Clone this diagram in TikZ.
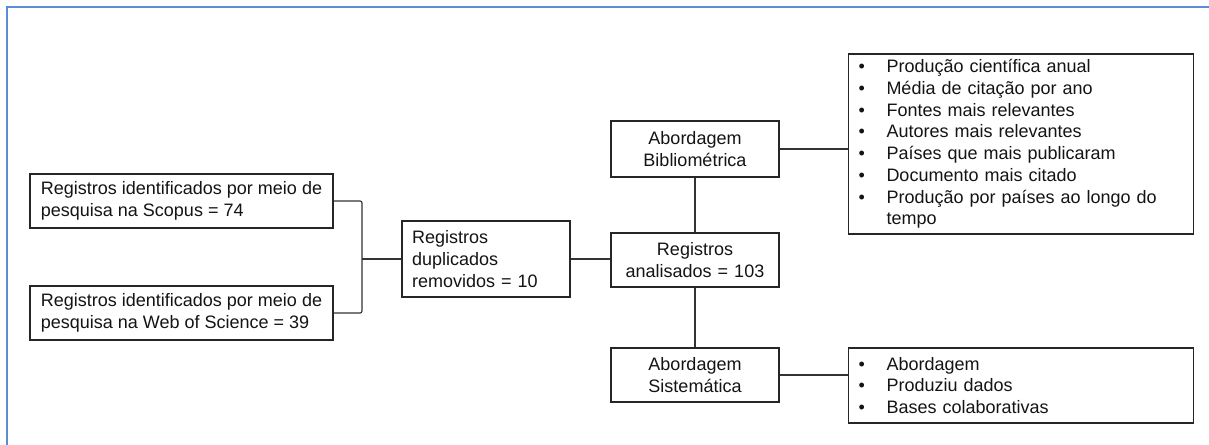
\documentclass[tikz,border=0pt]{standalone}
\usepackage{fontspec}
\setmainfont{Liberation Sans}
\usepackage{xcolor}
\usetikzlibrary{positioning,calc}
\definecolor{framecol}{RGB}{91,141,211}
\definecolor{inkcol}{RGB}{20,20,20}
\newcommand{\itm}[1]{\makebox[21pt][l]{\textbullet}#1}
\newcommand{\cont}[1]{\hspace*{21pt}#1}
\begin{document}
\begin{tikzpicture}[x=0.75pt, y=-0.75pt,
  font=\fontsize{13.5pt}{16.3pt}\selectfont, text=inkcol,
  box/.style={draw=black!85, line width=0.9pt, fill=white, inner xsep=7.5pt, inner ysep=2pt, minimum height=40.5pt},
  srcbox/.style={box, align=left, minimum width=227.25pt},
  stepbox/.style={box, text width=111pt, align=center},
  listbox/.style={box, text width=243.75pt, align=left},
  link/.style={draw=black!80, line width=0.9pt},
  frame/.style={draw=framecol, line width=1.5pt}]
\clip (0,0) rectangle (1209,445);
\draw[frame] (7,7) rectangle (1260,500);
% sources
\node[srcbox] (scopus) at (181.5,201) {Registros identificados por meio de\\pesquisa na Scopus = 74\hfill\null};
\node[srcbox] (wos) at (181.5,313) {Registros identificados por meio de\\pesquisa na Web of Science = 39\hfill\null};
% screening
\node[stepbox, align=left, minimum height=57pt] (dup) at (486,259) {Registros\\duplicados\\removidos = 10};
\node[stepbox] (anal) at (695,260) {Registros\\analisados = 103};
\node[stepbox, minimum height=42pt] (biblio) at (695,149) {Abordagem\\Bibliométrica};
\node[stepbox] (sist) at (695,375) {Abordagem\\Sistemática};
% outputs
\node[listbox, minimum height=135pt] (blist) at (1021,144) {\itm{Produção científica anual}\\
  \itm{Média de citação por ano}\\
  \itm{Fontes mais relevantes}\\
  \itm{Autores mais relevantes}\\
  \itm{Países que mais publicaram}\\
  \itm{Documento mais citado}\\
  \itm{Produção por países ao longo do}\\
  \cont{tempo}};
\node[listbox, minimum height=56.25pt] (slist) at (1021,385.5) {\itm{Abordagem}\\
  \itm{Produziu dados}\\
  \itm{Bases colaborativas}};
% connectors
\coordinate (brk) at (362,259);
\draw[link, rounded corners=1.5pt] (scopus.east) -| (brk) |- (wos.east);
\draw[link] (brk) -- (dup.west);
\draw[link] (dup.east) -- (dup.east -| anal.west);
\draw[link] (biblio) -- (anal);
\draw[link] (anal) -- (sist);
\draw[link] (biblio.east) -- (biblio.east -| blist.west);
\draw[link] (sist.east) -- (sist.east -| slist.west);
\end{tikzpicture}
\end{document}
